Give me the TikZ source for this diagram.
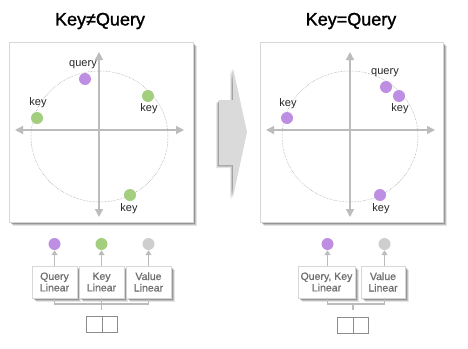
\documentclass[tikz,border=0pt]{standalone}
\usepackage{fontspec}
\setmainfont{Liberation Sans}
\newfontfamily\headfont[FakeBold=1.4]{Liberation Sans}
\newfontfamily\boxfont[FakeBold=0.9]{Liberation Sans}
\usetikzlibrary{arrows.meta}
\definecolor{qpurple}{RGB}{190,142,226}
\definecolor{kgreen}{RGB}{163,206,126}
\definecolor{vgray}{RGB}{206,206,206}
\definecolor{axisgray}{RGB}{188,188,188}
\definecolor{framegray}{RGB}{215,215,215}
\definecolor{boxtext}{RGB}{112,112,112}
\definecolor{arrowfill}{RGB}{218,218,218}
\tikzset{
  title/.style={font=\headfont\fontsize{18}{20}\selectfont, text=black},
  lbl/.style={font=\fontsize{11}{12}\selectfont, text=black!85, inner sep=0pt},
  dot/.style={circle, fill=#1, minimum size=12pt, inner sep=0pt},
  axis/.style={draw=axisgray, line width=1.4pt, {Triangle[length=8pt,width=8pt]}-{Triangle[length=8pt,width=8pt]}},
  orbit/.style={draw=black!40, densely dotted, line width=0.5pt},
  panel/.style={draw=framegray, fill=white, line width=0.8pt},
  linbox/.style={draw=framegray, fill=white, line width=0.8pt, minimum height=32pt,
    align=center, text=boxtext, font=\boxfont\fontsize{10.5}{11.5}\selectfont, inner sep=0pt},
  uparrow/.style={draw=axisgray, line width=1.2pt, -{Triangle[length=5pt,width=6pt]}},
  wire/.style={draw=axisgray, line width=1.2pt},
  cell/.style={draw=black!45, line width=0.8pt, minimum width=15.5pt, minimum height=16pt, inner sep=0pt},
}
% soft shadow below and right of a rectangle
\newcommand{\softshadow}[4]{%
  \foreach \o/\a in {1/0.25,2/0.22,3/0.16,4/0.10}{
    \fill[black, opacity=\a] (#1+\o,#2+\o) rectangle (#3+\o,#4+\o);
  }}
\begin{document}
\begin{tikzpicture}[x=1pt,y=-1pt]
\useasboundingbox (0,0) rectangle (468,348);
\fill[white] (0,0) rectangle (468,348);

% ---------------- titles ----------------
\node[title] (t1) at (100,21) {Key≠Query};
\node[title] (t2) at (351,21) {Key=Query};

% ---------------- panels ----------------
\softshadow{9}{42}{193}{222}
\draw[panel] (9,42) rectangle (193,222);
\softshadow{260}{42}{443}{222}
\draw[panel] (260,42) rectangle (443,222);

% left panel: axes, orbit, vectors
\draw[axis] (15,130) -- (184,130);
\draw[axis] (99,52) -- (99,217);
\draw[orbit] (99.5,136.5) ellipse [x radius=68.5, y radius=65.5];
\node[dot=qpurple] (q1) at (85,79) {};
\node[dot=kgreen] (k1a) at (148,96) {};
\node[dot=kgreen] (k1b) at (37,118) {};
\node[dot=kgreen] (k1c) at (130,195) {};
\node[lbl] (lq1) at (83,65) {query};
\node[lbl] (lk1a) at (149,109) {key};
\node[lbl] (lk1b) at (38,103) {key};
\node[lbl] (lk1c) at (129,209) {key};

% right panel: axes, orbit, vectors
\draw[axis] (266,130) -- (435,130);
\draw[axis] (350,52) -- (350,217);
\draw[orbit] (350,136.5) ellipse [x radius=68, y radius=65.5];
\node[dot=qpurple] (k2b) at (287,118) {};
\node[dot=qpurple] (k2c) at (380,195) {};
\node[dot=qpurple] (k2a) at (399,96) {};
\node[dot=qpurple] (q2) at (386,87) {};
\node[lbl] (lq2) at (385,73) {query};
\node[lbl] (lk2a) at (400,109) {key};
\node[lbl] (lk2b) at (288,104) {key};
\node[lbl] (lk2c) at (381,209) {key};

% ---------------- transition arrow ----------------
\foreach \o/\a in {1/0.18,2/0.14,3/0.09}{
  \fill[black, opacity=\a] (219-\o,100+\o) -- (233-\o,100+\o) -- (233-\o,68+\o) -- (247-\o,132+\o)
    -- (233-\o,197+\o) -- (233-\o,165+\o) -- (219-\o,165+\o) -- cycle;
}
\fill[arrowfill] (219,100) -- (233,100) -- (233,68) -- (247,132) -- (233,197) -- (233,165) -- (219,165) -- cycle;

% ---------------- left projections ----------------
\softshadow{32}{266}{77}{298}
\softshadow{79}{266}{124}{298}
\softshadow{126}{266}{171}{298}
\node[linbox, minimum width=45pt] (ql) at (54.5,282) {Query\\Linear};
\node[linbox, minimum width=45pt] (kl) at (101.5,282) {Key\\Linear};
\node[linbox, minimum width=45pt] (vl) at (148.5,282) {Value\\Linear};
\node[dot=qpurple] (dq) at (54.5,244) {};
\node[dot=kgreen] (dk) at (101.5,244) {};
\node[dot=vgray] (dv) at (148.5,244) {};
\draw[uparrow] (ql.north) -- (dq.south);
\draw[uparrow] (kl.north) -- (dk.south);
\draw[uparrow] (vl.north) -- (dv.south);
\coordinate (j1) at (101.5,310);
\draw[wire] (ql.south) |- (101.5,304) -| (vl.south);
\draw[wire] (kl.south) -- (j1);
\node[cell] (in1a) at (94.25,324) {};
\node[cell] (in1b) at (109.75,324) {};

% ---------------- right projections ----------------
\softshadow{298}{266}{355}{298}
\softshadow{361}{266}{405}{298}
\node[linbox, minimum width=57pt] (qkl) at (326.5,282) {Query, Key\\Linear};
\node[linbox, minimum width=44pt] (vl2) at (383,282) {Value\\Linear};
\node[dot=qpurple] (dqk) at (327.5,244) {};
\node[dot=vgray] (dv2) at (384.5,244) {};
\draw[uparrow] (dqk.south |- qkl.north) -- (dqk.south);
\draw[uparrow] (dv2.south |- vl2.north) -- (dv2.south);
\coordinate (j2) at (353,310);
\draw[wire] (dqk |- qkl.south) |- (353,304) -| (dv2 |- vl2.south);
\draw[wire] (353,304) -- (j2);
\node[cell] (in2a) at (345.25,325) {};
\node[cell] (in2b) at (360.75,325) {};

\end{tikzpicture}
\end{document}
